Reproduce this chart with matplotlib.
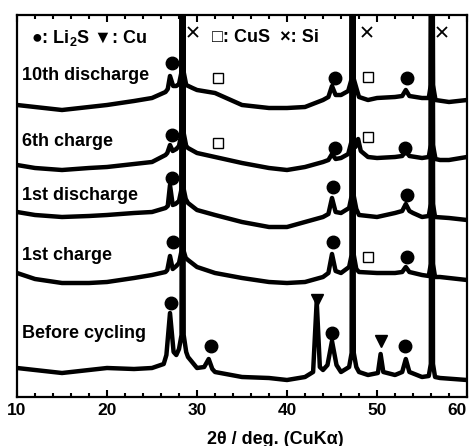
import numpy as np
import matplotlib
matplotlib.use('Agg')
import matplotlib.pyplot as plt

plt.rcParams['font.family'] = ['Liberation Sans', 'DejaVu Sans']
plt.rcParams['font.weight'] = 'bold'
plt.rcParams['mathtext.fontset'] = 'custom'
plt.rcParams['mathtext.rm'] = 'Liberation Sans:bold'
plt.rcParams['mathtext.it'] = 'Liberation Sans:bold'
plt.rcParams['mathtext.bf'] = 'Liberation Sans:bold'

# XRD patterns (2theta, offset intensity)
tenth_discharge = [(10, 292), (12, 290), (15, 287), (18, 290), (20, 292), (23, 296), (25, 299), (26.5, 305),
                   (26.75, 308), (27.0, 321), (27.35, 311), (27.7, 311), (28.0, 313), (28.28, 325), (28.36, 700),
                   (28.44, 700), (28.52, 325), (28.8, 312), (29.5, 309), (30, 307), (32, 304), (33, 300), (35, 292),
                   (38, 289), (40, 289), (42, 290), (44, 297), (44.6, 300), (45.0, 311), (45.4, 302), (46, 302),
                   (46.8, 306), (47.18, 318), (47.26, 700), (47.34, 700), (47.42, 318), (47.8, 306), (48, 300),
                   (49, 297), (50, 299), (52, 300), (52.8, 301), (53.2, 307), (53.6, 301), (55, 299), (55.75, 299),
                   (55.98, 312), (56.06, 700), (56.14, 700), (56.22, 312), (56.5, 297), (58, 295), (60, 297)]
sixth_charge = [(10, 232), (12, 229), (15, 227), (18, 229), (20, 230), (23, 233), (25, 235), (26.5, 242),
                (26.7, 244), (27.0, 252), (27.3, 246), (27.7, 248), (28.0, 251), (28.28, 264), (28.36, 700),
                (28.44, 700), (28.52, 264), (28.8, 251), (29, 249), (30, 244), (32, 240), (35, 234), (38, 229),
                (40, 227), (42, 230), (44, 235), (44.6, 237), (45.0, 243), (45.4, 238), (46, 239), (46.8, 243),
                (47.18, 256), (47.26, 700), (47.34, 700), (47.42, 256), (47.6, 250), (47.9, 258), (48.2, 246),
                (49, 240), (50, 239), (52, 240), (52.8, 241), (53.2, 246), (53.6, 241), (55, 239), (55.75, 240),
                (55.98, 252), (56.06, 700), (56.14, 700), (56.22, 252), (56.5, 238), (57, 237), (58, 237), (60, 240)]
first_discharge = [(10, 185), (12, 182), (15, 180), (18, 181), (20, 182), (23, 184), (25, 185), (26.5, 189),
                   (26.75, 191), (27.0, 212), (27.3, 192), (27.6, 193), (28.0, 196), (28.28, 208), (28.36, 700),
                   (28.44, 700), (28.52, 208), (28.75, 198), (29, 194), (30, 187), (32, 182), (35, 175), (38, 170),
                   (40, 170), (42, 175), (44, 180), (44.6, 183), (45.0, 199), (45.4, 185), (46, 184), (46.9, 189),
                   (47.18, 201), (47.26, 700), (47.34, 700), (47.42, 201), (47.7, 188), (48, 182), (50, 180),
                   (52, 184), (52.8, 186), (53.2, 193), (53.6, 186), (54, 184), (55, 180), (55.75, 181), (55.98, 193),
                   (56.06, 700), (56.14, 700), (56.22, 193), (56.45, 180), (58, 179), (60, 177)]
first_charge = [(10, 124), (12, 118), (15, 114), (18, 114), (20, 115), (23, 119), (25, 122), (26.5, 125),
                (26.7, 127), (27.0, 141), (27.3, 128), (27.7, 131), (28.0, 134), (28.28, 146), (28.36, 700),
                (28.44, 700), (28.52, 146), (28.75, 139), (29, 137), (30, 130), (32, 124), (35, 119), (38, 115),
                (40, 114), (42, 115), (44, 120), (44.6, 124), (45.0, 143), (45.4, 126), (46, 124), (46.9, 130),
                (47.18, 142), (47.26, 700), (47.34, 700), (47.42, 142), (47.7, 128), (48, 125), (50, 124),
                (52, 124), (52.8, 125), (53.2, 130), (53.6, 125), (55, 122), (55.75, 121), (55.98, 133),
                (56.06, 700), (56.14, 700), (56.22, 133), (56.45, 120), (57, 120), (60, 117)]
before_cycling = [(10, 29), (12, 27), (15, 24), (18, 27), (20, 29), (23, 28), (25, 29), (26.3, 33), (26.6, 42),
                  (27.0, 84), (27.4, 45), (27.7, 42), (28.0, 48), (28.28, 62), (28.36, 700), (28.44, 700),
                  (28.52, 62), (28.8, 45), (29, 40), (30, 29), (30.8, 30), (31.3, 38), (31.7, 28), (32, 25),
                  (35, 20), (38, 19), (40, 17), (42, 20), (42.9, 25), (43.3, 96), (43.65, 30), (44, 27), (44.5, 32),
                  (45.0, 56), (45.5, 32), (46, 25), (46.9, 30), (47.18, 44), (47.26, 700), (47.34, 700),
                  (47.42, 44), (47.7, 30), (48, 25), (49, 22), (50.1, 24), (50.4, 43), (50.7, 25), (52, 22),
                  (52.8, 25), (53.2, 38), (53.6, 25), (55, 20), (55.75, 21), (55.98, 33), (56.06, 700),
                  (56.14, 700), (56.22, 33), (56.45, 20), (57, 19), (60, 17)]

patterns = [tenth_discharge, sixth_charge, first_discharge, first_charge, before_cycling]
labels = ['10th discharge', '6th charge', '1st discharge', '1st charge', 'Before cycling']
label_y = [322, 255, 202, 142, 64]

# phase markers
li2s_x = [27.2, 45.3, 53.3, 27.2, 45.3, 53.1, 27.2, 45.1, 53.3, 27.3, 45.1, 53.3, 27.1, 31.5, 45.0, 53.1]
li2s_y = [334, 319, 319, 262, 249, 249, 219, 210, 202, 155, 155, 140, 94, 51, 64, 51]
cu_x = [43.3, 50.4]
cu_y = [97, 56]
cus_x = [32.3, 49.0, 32.3, 49.0, 49.0]
cus_y = [319, 320, 254, 260, 140]
si_x = [29.6, 48.9, 57.2]
si_y = [365, 365, 365]

fig = plt.figure(figsize=(4.7, 4.46), dpi=100)
ax = fig.add_axes([17/470, 49/446, 450/470, 382/446])

for p in patterns:
    tt, inten = zip(*p)
    ax.plot(tt, inten, color='black', lw=3.2, solid_joinstyle='round')

ax.plot(li2s_x, li2s_y, 'o', color='black', ms=9, ls='none')
ax.plot(cu_x, cu_y, 'v', color='black', ms=8, ls='none')
ax.plot(cus_x, cus_y, 's', mfc='white', mec='black', mew=1.0, ms=7, ls='none')
ax.plot(si_x, si_y, 'x', color='black', ms=7, mew=1.3, ls='none')

for lab, ly in zip(labels, label_y):
    ax.text(10.55, ly, lab, fontsize=13, fontweight='bold', va='center', ha='left')

ax.text(11.6, 359, '●: Li$_2$S ▼: Cu', fontsize=13, fontweight='bold', va='center', ha='left')
ax.text(31.7, 359, '□: CuS  ×: Si', fontsize=13, fontweight='bold', va='center', ha='left')

ax.set_xlim(10, 60)
ax.set_ylim(0, 382)
ax.set_xticks(np.arange(10, 61, 10))
ax.set_xticks(np.arange(10, 61, 2), minor=True)
ax.set_yticks([])
ax.tick_params(axis='x', which='both', direction='in', top=True, width=1.5)
ax.tick_params(axis='x', which='major', length=5, labelsize=12.5, pad=4)
ax.tick_params(axis='x', which='minor', length=3)
tick_lbls = ax.get_xticklabels()
for lbl in tick_lbls:
    lbl.set_fontweight('bold')
tick_lbls[-1].set_horizontalalignment('right')
for s in ax.spines.values():
    s.set_linewidth(1.6)

ax.text(0.573, -0.11, '2θ / deg. (CuKα)', transform=ax.transAxes, fontsize=13, fontweight='bold',
        ha='center', va='center')

fig.savefig('out.png', dpi=100)
